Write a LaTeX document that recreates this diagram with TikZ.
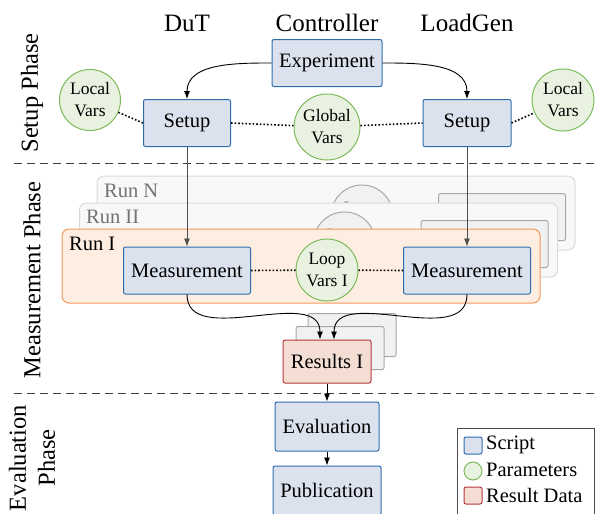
\documentclass[tikz,border=0pt]{standalone}
\usepackage{fontspec}
\setmainfont{Liberation Serif}
\usetikzlibrary{arrows.meta}
\definecolor{scriptfill}{HTML}{DBE2EE}
\definecolor{scriptdraw}{HTML}{2E6CAE}
\definecolor{paramfill}{HTML}{E9F1E1}
\definecolor{paramdraw}{HTML}{7DBB5A}
\definecolor{resfill}{HTML}{F4DED4}
\definecolor{resdraw}{HTML}{B5383A}
\definecolor{runfill}{HTML}{FDEEE1}
\definecolor{rundraw}{HTML}{F29A5A}
\definecolor{backfill}{HTML}{F8F8F8}
\definecolor{backdraw}{HTML}{DADADA}
\definecolor{ghostfill}{HTML}{F0F1F3}
\definecolor{ghostdraw}{HTML}{A8A8A8}
\begin{document}
\begin{tikzpicture}[x=1pt,y=-1pt,
  bodyfont/.style={font=\fontsize{20.5}{22}\selectfont},
  script/.style={draw=scriptdraw, fill=scriptfill, line width=1pt, rounded corners=2pt,
    minimum height=47pt, inner sep=0pt, bodyfont},
  result/.style={draw=resdraw, fill=resfill, line width=1pt, rounded corners=2pt,
    minimum height=43pt, minimum width=88pt, inner sep=0pt, bodyfont},
  ghostres/.style={draw=ghostdraw, fill=ghostfill, line width=1pt, rounded corners=2pt,
    minimum height=43pt, minimum width=88pt, inner sep=0pt, bodyfont, text=gray},
  param/.style={circle, draw=paramdraw, fill=paramfill, line width=1pt, inner sep=0pt,
    align=center, font=\fontsize{17.5}{22}\selectfont},
  ghostparam/.style={circle, draw=ghostdraw, fill=ghostfill, line width=1pt, inner sep=0pt,
    minimum size=62pt},
  ghosttext/.style={align=center, inner sep=0pt, font=\fontsize{17.5}{22}\selectfont, text=gray},
  ghostscript/.style={draw=ghostdraw, fill=ghostfill, line width=1pt, rounded corners=2pt,
    minimum height=47pt, minimum width=127pt, inner sep=0pt, bodyfont, text=gray},
  runbox/.style={draw=rundraw, fill=runfill, line width=1pt, rounded corners=7pt,
    minimum width=478pt, minimum height=74pt, inner sep=0pt},
  runback/.style={draw=backdraw, fill=backfill, line width=1pt, rounded corners=7pt,
    minimum width=478pt, minimum height=74pt, inner sep=0pt},
  runlabel/.style={anchor=base west, inner sep=0pt, bodyfont},
  header/.style={anchor=base, inner sep=0pt, font=\fontsize{25}{28}\selectfont},
  phase/.style={rotate=90, align=center, inner sep=0pt, font=\fontsize{24.5}{29}\selectfont},
  arr/.style={-{Latex[length=8pt,width=6pt]}, line width=0.9pt},
  dots/.style={line width=1.6pt, dash pattern=on 1.6pt off 2pt},
  sep/.style={line width=1pt, draw=black!75, dash pattern=on 8pt off 5pt}
]
\useasboundingbox (0,0) rectangle (595,514);

% headers
\node[header] (hdut) at (187,31) {DuT};
\node[header] (hctl) at (327,31) {Controller};
\node[header] (hlg) at (467,31) {LoadGen};

% phase labels
\node[phase] (psetup) at (32,93) {Setup Phase};
\node[phase] (pmeas) at (32,280) {Measurement Phase};
\node[phase] (peval) at (32,458) {Evaluation\\Phase};

% separators
\coordinate (s1a) at (14,163);
\coordinate (s1b) at (595,163);
\coordinate (s2a) at (14,393);
\coordinate (s2b) at (595,393);
\draw[sep] (s1a) -- (s1b);
\draw[sep] (s2a) -- (s2b);

% setup phase
\node[script, minimum width=110pt] (exp) at (327,63) {Experiment};
\node[script, minimum width=87pt] (setL) at (187,123) {Setup};
\node[script, minimum width=88pt] (setR) at (467,123) {Setup};
\node[param, minimum size=61pt] (locL) at (90,100) {Local\\Vars};
\node[param, minimum size=62pt] (locR) at (563,100) {Local\\Vars};
\node[param, minimum size=66pt] (glob) at (327,127) {Global\\Vars};

\draw[dots] (locL) -- (setL.west);
\draw[dots] (setL.east) -- (glob);
\draw[dots] (glob) -- (setR.west);
\draw[dots] (setR.east) -- (locR);

\draw[arr] (exp.west) to[out=180,in=90] (setL.north);
\draw[arr] (exp.east) to[out=0,in=90] (setR.north);

% run N
\node[runback] (runN) at (336,213) {};
\node[runlabel, text=black!55] (lN) at (104,197) {Run N};
\node[ghostparam] (loopN) at (362,216) {};
\node[ghosttext] (loopNt) at (362,219) {Loop\\Vars N};
\node[ghostscript] (measN) at (502,217) {};

% run II
\node[runback] (runII) at (318.5,240) {};
\node[runlabel, text=black!55] (lII) at (86,223) {Run II};
\node[ghostparam] (loopII) at (344.5,243) {};
\node[ghosttext] (loopIIt) at (344.5,246) {Loop\\Vars II};
\node[ghostscript] (measII) at (484.5,244) {};

% run I
\node[runbox] (runI) at (301,266) {};
\node[runlabel] (lI) at (69,250) {Run I};
\node[script, minimum width=127pt] (measL) at (187,270.5) {Measurement};
\node[script, minimum width=127pt] (measR) at (467,270.5) {Measurement};
\node[param, minimum size=62pt] (loop) at (327,270) {Loop\\Vars I};

\draw[dots] (measL.east) -- (loop);
\draw[dots] (loop) -- (measR.west);

\draw[arr, draw=black!70] (setL.south) -- (measL.north);
\draw[arr, draw=black!70] (setR.south) -- (measR.north);

% results
\node[ghostres] (resN) at (352,335) {};
\node[ghostres] (resII) at (340,348) {};
\node[result] (res) at (327,361.5) {Results I};

\draw[arr] (measL.south) to[out=-90,in=90] ([xshift=-7pt]res.north);
\draw[arr] (measR.south) to[out=-90,in=90] ([xshift=7pt]res.north);

% evaluation
\node[script, minimum width=104pt, minimum height=49pt] (eval) at (327,426.5) {Evaluation};
\node[script, minimum width=108pt, minimum height=49pt] (pub) at (327,490.5) {Publication};
\draw[arr, line width=0.8pt] (res.south) -- (eval.north);
\draw[arr, line width=0.8pt] (eval.south) -- (pub.north);

% legend
\node[draw=black!70, line width=1pt, minimum width=137pt, minimum height=90pt, inner sep=0pt] (leg) at (525.5,473) {};
\node[draw=scriptdraw, fill=scriptfill, line width=1pt, rounded corners=2pt, minimum width=18pt, minimum height=17pt, inner sep=0pt] (k1) at (473,445.5) {};
\node[circle, draw=paramdraw, fill=paramfill, line width=1pt, minimum size=18pt, inner sep=0pt] (k2) at (473,471) {};
\node[draw=resdraw, fill=resfill, line width=1pt, rounded corners=2pt, minimum width=18pt, minimum height=17pt, inner sep=0pt] (k3) at (473,495.5) {};
\node[anchor=west, inner sep=0pt, bodyfont] (t1) at (486,445) {Script};
\node[anchor=west, inner sep=0pt, bodyfont] (t2) at (486,470) {Parameters};
\node[anchor=west, inner sep=0pt, bodyfont] (t3) at (486,495) {Result Data};
\end{tikzpicture}
\end{document}
